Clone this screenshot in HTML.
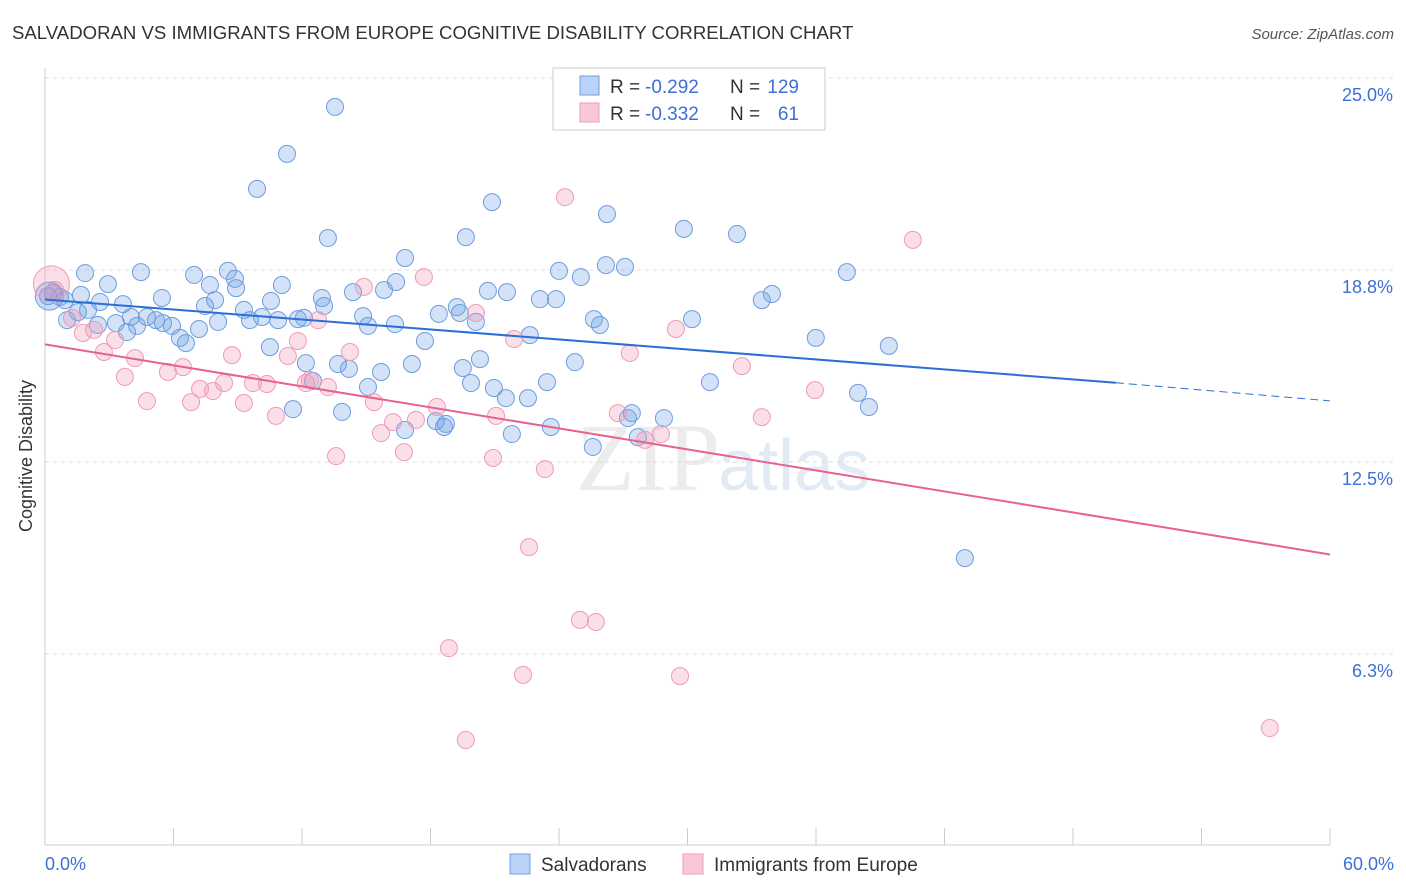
<!DOCTYPE html>
<html><head><meta charset="utf-8"><style>
body{margin:0;background:#fff;font-family:"Liberation Sans",sans-serif;}
#wrap{position:relative;width:1406px;height:892px;overflow:hidden;}
</style></head><body>
<div id="wrap">
<svg id="chart" width="1406" height="892">
<text x="12" y="39" font-size="18.6" fill="#333">SALVADORAN VS IMMIGRANTS FROM EUROPE COGNITIVE DISABILITY CORRELATION CHART</text>
<text x="1394" y="39" font-size="15" fill="#555" text-anchor="end" font-style="italic">Source: ZipAtlas.com</text>
<text x="720" y="490" font-size="96" fill="#ececec" text-anchor="end" font-family="Liberation Serif">ZIP</text>
<text x="718" y="490" font-size="72" fill="#e2eaf6">atlas</text>
<g id="grid"></g><g id="axes"></g><g id="pts"></g><g id="trend"></g>
<text transform="translate(32,456) rotate(-90)" font-size="18" fill="#333" text-anchor="middle">Cognitive Disability</text>
<text x="45" y="870" font-size="18" fill="#3d6fd6">0.0%</text>
<text x="1394" y="870" font-size="18" fill="#3d6fd6" text-anchor="end">60.0%</text>
<g>
<rect x="553" y="68" width="272" height="62" fill="#fff" stroke="#ccc"/>
<rect x="580" y="76" width="19" height="19" fill="#b9d2f5" stroke="#6d9de0"/>
<rect x="580" y="103" width="19" height="19" fill="#f9c8d7" stroke="#f09ab8"/>
<text x="610" y="93" font-size="19" fill="#333">R =</text>
<text x="645" y="93" font-size="19" fill="#3d6fd6">-0.292</text>
<text x="730" y="93" font-size="19" fill="#333">N =</text>
<text x="799" y="93" font-size="19" fill="#3d6fd6" text-anchor="end">129</text>
<text x="610" y="120" font-size="19" fill="#333">R =</text>
<text x="645" y="120" font-size="19" fill="#3d6fd6">-0.332</text>
<text x="730" y="120" font-size="19" fill="#333">N =</text>
<text x="799" y="120" font-size="19" fill="#3d6fd6" text-anchor="end">61</text>
</g>
<g>
<rect x="510" y="854" width="20" height="20" fill="#b9d2f5" stroke="#6d9de0"/>
<text x="541" y="871" font-size="19" fill="#333">Salvadorans</text>
<rect x="683" y="854" width="20" height="20" fill="#f9c8d7" stroke="#f09ab8"/>
<text x="714" y="871" font-size="19" fill="#333">Immigrants from Europe</text>
</g>
</svg></div>
<script>
const yTicks=[25.0,18.8,12.5,6.3];
const yTickVals=[25,18.75,12.5,6.25];
const blueX=[13.54,11.30,9.90,20.87,26.24,13.21,19.65,29.83,32.31,16.81,24.00,26.19,27.08,25.02,37.44,1.87,4.48,6.96,8.54,8.87,2.94,7.70,8.92,11.06,16.39,15.83,14.38,20.68,21.57,33.94,33.47,23.11,23.86,12.93,10.55,7.94,5.46,3.64,2.57,1.68,0.70,0.37,0.14,0.93,2.01,7.47,9.29,13.03,19.23,19.37,18.39,14.85,25.63,25.91,30.21,35.99,39.40,20.12,16.34,15.08,12.09,11.81,10.88,10.13,9.57,8.08,7.19,5.93,6.30,6.58,5.51,5.18,4.76,4.30,4.01,3.31,2.47,1.03,1.54,3.83,10.50,12.18,13.68,17.74,17.13,22.64,20.31,19.51,24.74,14.19,15.69,23.44,20.96,19.89,15.08,12.51,31.05,37.96,38.47,21.52,22.55,11.58,13.87,27.40,27.22,28.90,16.81,18.25,18.72,18.63,21.80,23.62,27.68,25.58,42.95];
const blueY=[24.06,22.53,21.39,20.96,20.57,19.79,19.82,20.09,19.92,19.14,18.72,18.91,18.85,18.52,18.68,18.65,18.68,18.59,18.72,18.46,18.29,18.26,18.16,18.26,18.36,18.10,18.03,18.07,18.03,17.97,17.77,17.80,17.80,17.84,17.74,17.77,17.84,17.64,17.71,17.94,17.87,18.00,17.90,17.77,17.45,17.58,17.45,17.58,17.54,17.35,17.32,17.25,17.15,16.96,17.15,16.54,16.28,17.06,16.99,16.93,17.19,17.15,17.12,17.22,17.12,17.06,16.83,16.93,16.54,16.37,17.02,17.12,17.22,16.93,17.22,17.02,16.96,17.12,17.38,16.73,16.24,15.72,15.69,16.44,15.69,16.63,15.85,15.56,15.75,15.53,15.43,15.10,14.91,15.07,14.94,15.14,15.10,14.75,14.29,14.58,14.58,14.22,14.13,14.09,13.93,13.93,13.54,13.83,13.74,13.64,13.41,13.64,13.31,12.99,9.37];
const pinkX=[31.00,24.28,40.52,17.69,14.89,12.75,20.12,29.46,21.90,27.31,14.24,32.54,35.95,11.81,11.34,8.73,6.44,5.74,4.20,3.73,4.76,6.82,7.24,7.84,8.36,9.29,9.71,10.36,10.78,12.18,13.21,12.37,15.36,15.69,16.25,17.32,18.30,21.06,26.75,28.76,28.01,33.47,13.59,16.76,20.92,23.34,22.60,24.98,25.72,18.86,22.32,29.65,19.65,57.19,2.75,3.27,2.29,1.77,1.26,0.47];
const pinkY=[24.15,21.12,19.73,18.52,18.20,17.12,17.35,16.83,16.50,16.05,16.08,15.62,14.84,16.44,15.95,15.98,15.59,15.43,15.88,15.27,14.48,14.45,14.88,14.81,15.07,14.42,15.07,15.04,14.00,15.07,14.94,15.17,14.45,13.44,13.80,13.87,14.29,14.00,14.09,13.41,13.22,13.96,12.69,12.82,12.63,12.27,9.73,7.36,7.29,6.44,5.57,5.53,3.45,3.84,16.08,16.47,16.80,16.70,17.19,18.10];
const blueTrend=[17.79,15.08,14.49];
const pinkTrend=[16.33,9.49];
const NS='http://www.w3.org/2000/svg';
const X=v=>45+v/60*1285, Y=v=>846-v*30.72;
function mk(t,a,p){const e=document.createElementNS(NS,t);for(const k in a)e.setAttribute(k,a[k]);p.appendChild(e);return e;}
const grid=document.getElementById('grid');
yTickVals.forEach((v,i)=>{
 const l=mk('line',{x1:45,x2:1395,y1:Y(v),y2:Y(v),stroke:'#ddd','stroke-dasharray':'4,4'},grid);
 
 
 const t=mk('text',{x:1393,y:Y(v)+23,'font-size':18,fill:'#3d6fd6','text-anchor':'end'},grid);
 t.textContent=yTicks[i].toFixed(1)+'%';
 
 
});
const ax=document.getElementById('axes');
mk('line',{x1:45,x2:45,y1:68,y2:845,stroke:'#ccc'},ax);
mk('line',{x1:45,x2:1330,y1:845,y2:845,stroke:'#ccc'},ax);
for(let i=0;i<=10;i++){const tk=mk('line',{x1:X(i*6),x2:X(i*6),y1:828,y2:845,stroke:'#ccc'},ax);
 
 }
const pts=document.getElementById('pts');
blueX.forEach((x,i)=>{const c=mk('circle',{cx:X(x),cy:Y(blueY[i]),r:8.5,fill:'rgba(110,160,230,0.3)',stroke:'#6d9de0','stroke-width':1},pts);
 
 });
pinkX.forEach((x,i)=>{const c=mk('circle',{cx:X(x),cy:Y(pinkY[i]),r:8.5,fill:'rgba(240,150,180,0.3)',stroke:'#f09ab8','stroke-width':1},pts);
 
 });
const b1=mk('circle',{cx:X(0.2),cy:Y(17.9),r:14,fill:'rgba(110,160,230,0.35)',stroke:'#6d9de0'},pts);


const p1=mk('circle',{cx:X(0.3),cy:Y(18.3),r:18,fill:'rgba(240,150,180,0.3)',stroke:'#f09ab8'},pts);


const tr=document.getElementById('trend');
const t1=mk('line',{x1:X(0),y1:Y(blueTrend[0]),x2:X(50),y2:Y(blueTrend[1]),stroke:'#2b6fd6','stroke-width':2},tr);


const t2=mk('line',{x1:X(50),y1:Y(blueTrend[1]),x2:X(60),y2:Y(blueTrend[2]),stroke:'#2b6fd6','stroke-width':1,'stroke-dasharray':'8,5'},tr);


const t3=mk('line',{x1:X(0),y1:Y(pinkTrend[0]),x2:X(60),y2:Y(pinkTrend[1]),stroke:'#e8628f','stroke-width':2},tr);


</script>
</body></html>
